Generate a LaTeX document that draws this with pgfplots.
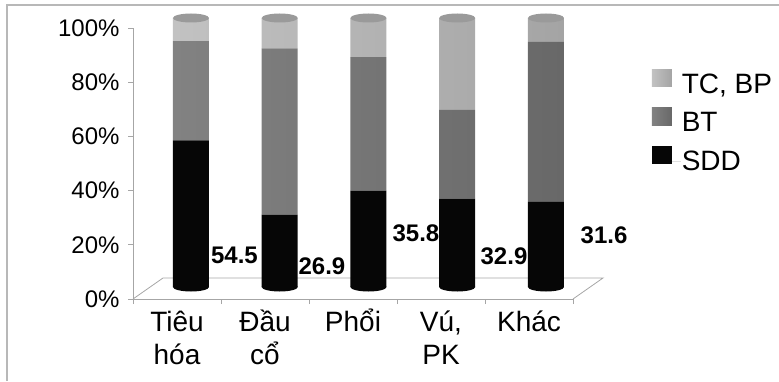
\documentclass[border=0pt]{standalone}
\usepackage{pgfplots}
\pgfplotsset{compat=1.18}
\usepackage{fontspec}
\setmainfont{Liberation Sans}

\definecolor{tcL}{HTML}{C2C2C2}
\definecolor{tcR}{HTML}{A4A4A4}
\definecolor{btL}{HTML}{828282}
\definecolor{btR}{HTML}{686868}
\definecolor{sdd}{HTML}{060606}
\definecolor{capg}{HTML}{9A9A9A}
\definecolor{axisg}{HTML}{A6A6A6}
\definecolor{frameg}{HTML}{B8B8B8}

% elliptical end face of a cylinder
\pgfdeclareplotmark{cylcap}{%
  \pgfpathellipse{\pgfpointorigin}{\pgfqpoint{18pt}{0pt}}{\pgfqpoint{0pt}{4.5pt}}%
  \pgfusepathqfill}

\tikzset{vallabel/.style={font=\fontsize{24}{28}\selectfont\bfseries, inner sep=0pt}}
% legend swatch: a flat square followed by a small gap
\newcommand{\swatch}[1]{\fill[#1] (0pt,-2.5pt) rectangle (20pt,15pt); \path (0pt,0pt) -- (29pt,0pt);}
% strut that keeps the first line of every category label on one baseline
\newcommand{\cs}{\rule{0pt}{32pt}}

\begin{document}
\begin{tikzpicture}[x=1pt,y=1pt]
\useasboundingbox (0,0) rectangle (779,381);
% outer frame (top and left edges)
\draw[frameg, line width=1.4pt] (7,0) -- (7,376) -- (779,376);

% front axis: value scale, floor and category labels
\begin{axis}[
  at={(133pt,82pt)}, anchor=south west,
  scale only axis, width=440pt, height=271pt,
  xmin=-0.5, xmax=4.5, ymin=0, ymax=100,
  axis x line*=bottom, axis y line*=left,
  axis line style={axisg, line width=0.8pt},
  tick align=outside, major tick length=5pt,
  tick style={axisg, line width=0.8pt},
  ytick={0,20,40,60,80,100},
  yticklabels={0\%,20\%,40\%,60\%,80\%,100\%},
  yticklabel style={font=\fontsize{24}{28}\selectfont, anchor=east, xshift=-5pt},
  xtick={-0.5,0.5,1.5,2.5,3.5,4.5},
  xticklabels={},
  xticklabel style={font=\fontsize{28}{33}\selectfont, align=center, anchor=north, inner sep=0pt},
  extra x ticks={0,1,2,3,4},
  extra x tick labels={{\cs Tiêu\\hóa},{\cs Đầu\\cổ},{\cs Phổi},{\cs Vú,\\PK},{\cs Khác}},
  extra x tick style={major tick length=0pt},
  clip=false,
]
\draw[axisg, line width=0.8pt] (axis cs:-0.5,0) -- ++(30pt,21pt)
  -- ([xshift=30pt,yshift=21pt]axis cs:4.5,0) -- (axis cs:4.5,0);
\end{axis}

% stacked cylinders
\begin{axis}[
  at={(146.6pt,94pt)}, anchor=south west,
  scale only axis, width=443.75pt, height=269pt,
  xmin=-0.5, xmax=4.5, ymin=0, ymax=100,
  hide axis, clip=false,
  ybar stacked, bar width=36pt,
  legend style={at={(axis description cs:1.138,0.81)}, anchor=north west,
    draw=none, fill=none, font=\fontsize{28}{32}\selectfont,
    row sep=12pt, inner sep=0pt, nodes={inner sep=1pt}},
  legend cell align=left, reverse legend,
]
\addplot[fill=sdd, draw=none, legend image code/.code={\swatch{sdd}}]
  coordinates {(0,54.5) (1,26.9) (2,35.8) (3,32.9) (4,31.6)};
\addplot[left color=btL, right color=btR, draw=none, legend image code/.code={\swatch{btL}}]
  coordinates {(0,36.9) (1,61.8) (2,49.7) (3,32.9) (4,59.5)};
\addplot[left color=tcL, right color=tcR, draw=none, legend image code/.code={\swatch{tcL}}]
  coordinates {(0,8.6) (1,11.3) (2,14.5) (3,34.2) (4,8.9)};
\legend{SDD, BT, {TC, BP}}
\node[vallabel] at (axis cs:0.49,11.9) {54.5};
\node[vallabel] at (axis cs:1.476,7.8) {26.9};
\node[vallabel] at (axis cs:2.535,20.1) {35.8};
\node[vallabel] at (axis cs:3.527,11.5) {32.9};
\node[vallabel] at (axis cs:4.654,19.3) {31.6};
\end{axis}

% top faces and rounded bases of the cylinders
\begin{axis}[
  at={(146.6pt,94pt)}, anchor=south west,
  scale only axis, width=443.75pt, height=269pt,
  xmin=-0.5, xmax=4.5, ymin=0, ymax=100,
  hide axis, clip=false,
]
\addplot[only marks, mark=cylcap, mark options={fill=capg}]
  coordinates {(0,100) (1,100) (2,100) (3,100) (4,100)};
\addplot[only marks, mark=cylcap, mark options={fill=sdd}]
  coordinates {(0,0) (1,0) (2,0) (3,0) (4,0)};
\end{axis}
\end{tikzpicture}
\end{document}
